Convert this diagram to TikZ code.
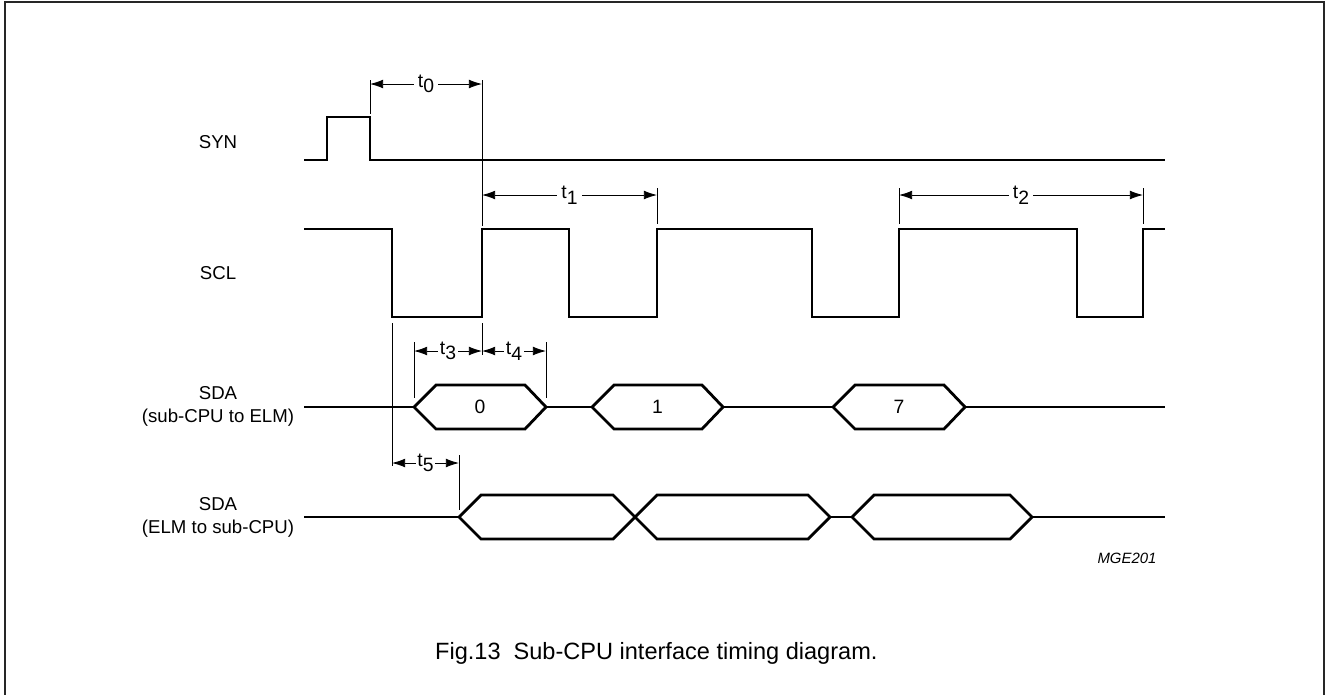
\documentclass[tikz,border=0pt]{standalone}
\usepackage{fontspec}
\setmainfont{Liberation Sans}
\usepackage{tikz}
\usetikzlibrary{arrows.meta, positioning}

\newcommand{\tsub}[2]{#1\raisebox{-0.55ex}{#2}}

\begin{document}
\begin{tikzpicture}[x=0.02cm, y=-0.02cm,
		sig/.style={line width=1.6pt, line join=miter},
		bar/.style={line width=0.5pt},
		dimarr/.style={line width=0.5pt, {Latex[length=7.5pt,width=5pt]}-{Latex[length=7.5pt,width=5pt]}},
		tlab/.style={fill=white, inner sep=2.5pt, font=\fontsize{11}{13}\selectfont},
		signame/.style={align=center, font=\fontsize{10.6}{13}\selectfont},
		busval/.style={font=\fontsize{11}{13}\selectfont}]
		\clip (0,0) rectangle (1326,694);
		\draw[line width=1.2pt, black!85] (5,2) rectangle (1324,700);
		
		% signal names
		\node[signame] (syn) at (218,142) {SYN};
		\node[signame] (scl) at (218,273) {SCL};
		\node[signame] (sdaa) at (218,406) {SDA\\(sub-CPU to ELM)};
		\node[signame] (sdab) at (218,517) {SDA\\(ELM to sub-CPU)};
		
		% SYN
		\draw[sig] (304,160) -- (327,160) -- (327,117) -- (370,117) -- (370,160) -- (1165,160);
		
		% SCL
		\draw[sig] (304,229) -- (392,229) -- (392,317) -- (482,317) -- (482,229) -- (569,229) -- (569,317)
			-- (657,317) -- (657,229) -- (812,229) -- (812,317) -- (899,317) -- (899,229)
			-- (1077,229) -- (1077,317) -- (1143,317) -- (1143,229) -- (1165,229);
		
		% SDA (sub-CPU to ELM)
		\draw[sig] (304,407) -- (414,407);
		\draw[sig] (546,407) -- (592,407);
		\draw[sig] (723,407) -- (833,407);
		\draw[sig] (965,407) -- (1165,407);
		\foreach \a/\b/\v in {414/546/0, 592/723/1, 833/965/7} {
			\draw[sig] (\a,407) -- ({\a+22},385) -- ({\b-21},385) -- (\b,407) -- ({\b-21},429) -- ({\a+22},429) -- cycle;
			\node[busval] (bit\v) at ({(\a+\b)/2},407) {\v};
		}
		
		% SDA (ELM to sub-CPU)
		\draw[sig] (304,517) -- (459,517);
		\draw[sig] (830,517) -- (852,517);
		\draw[sig] (1032,517) -- (1165,517);
		\foreach \a/\b in {459/635, 635/830, 852/1032} {
			\draw[sig] (\a,517) -- ({\a+22},495) -- ({\b-22},495) -- (\b,517) -- ({\b-22},539) -- ({\a+22},539) -- cycle;
		}
		
		% timing bars
		\draw[bar] (370,80) -- (370,114);
		\draw[bar] (482,80) -- (482,226);
		\draw[bar] (657,188) -- (657,224);
		\draw[bar] (899,188) -- (899,224);
		\draw[bar] (1143,188) -- (1143,224);
		\draw[bar] (392,323) -- (392,466);
		\draw[bar] (482,323) -- (482,355);
		\draw[bar] (414,342) -- (414,398);
		\draw[bar] (546,342) -- (546,398);
		\draw[bar] (459,455) -- (459,510);
		
		% timing arrows
		\draw[dimarr] (370,84) -- node[tlab] (t0) {\tsub{t}{0}} (482,84);
		\draw[dimarr] (482,195) -- node[tlab] (t1) {\tsub{t}{1}} (657,195);
		\draw[dimarr] (899,195) -- node[tlab] (t2) {\tsub{t}{2}} (1143,195);
		\draw[dimarr] (414,351) -- node[tlab, inner sep=1pt] (t3) {\tsub{t}{3}} (482,351);
		\draw[dimarr] (482,351) -- node[tlab, inner sep=1pt] (t4) {\tsub{t}{4}} (546,351);
		\draw[dimarr] (392,463) -- node[tlab, inner sep=1pt] (t5) {\tsub{t}{5}} (459,463);
		
		\node[font=\fontsize{8.5}{10}\selectfont\itshape] (code) at (1127,558) {MGE201};
		\node[anchor=west, font=\fontsize{13.4}{16}\selectfont] (caption) at (429,653) {Fig.13\ \ Sub-CPU interface timing diagram.};
		
		\end{tikzpicture}
\end{document}
